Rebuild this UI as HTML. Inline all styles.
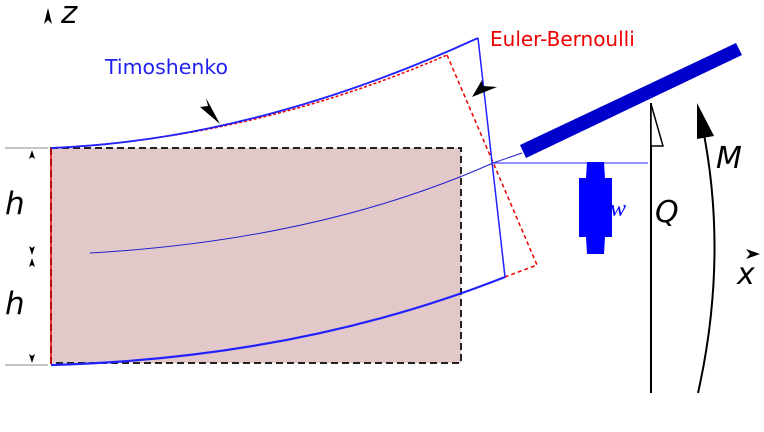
<!DOCTYPE html>
<html><head><meta charset="utf-8"><style>
html,body{margin:0;padding:0;background:#fff;width:764px;height:432px;overflow:hidden}
svg{display:block}
text{font-family:"DejaVu Sans","Liberation Sans",sans-serif}
</style></head><body>
<svg width="764" height="432" viewBox="0 0 764 432" xmlns="http://www.w3.org/2000/svg">
<rect x="51" y="148" width="410" height="215" fill="#e3c8c9" stroke="#222" stroke-width="2" stroke-dasharray="7,4"/>
<line x1="51" y1="148" x2="51" y2="364" stroke="#e00" stroke-width="1.5"/>
<line x1="5" y1="148" x2="48" y2="148" stroke="#888" stroke-width="1"/>
<line x1="5" y1="365" x2="48" y2="365" stroke="#888" stroke-width="1"/>
<g fill="#000">
<path d="M32,150 l-3,9 3,-2 3,2z"/>
<path d="M32,255 l-3,-9 3,2 3,-2z"/>
<path d="M32,258 l-3,9 3,-2 3,2z"/>
<path d="M32,363 l-3,-9 3,2 3,-2z"/>
</g>
<text x="5" y="214" font-size="31" font-style="italic">h</text>
<text x="5" y="314" font-size="31" font-style="italic">h</text>
<path d="M48,8 l-4,16 4,-4 4,4z" fill="#000"/>
<text x="61" y="23" font-size="31" font-style="italic">z</text>
<path d="M51,148 Q255,138 447,55" fill="none" stroke="#e00" stroke-width="1.5" stroke-dasharray="3,2"/>
<path d="M447,55 L537,265 L505,277" fill="none" stroke="#e00" stroke-width="1.5" stroke-dasharray="4,3"/>
<path d="M51,148 Q255,140 478,38" fill="none" stroke="#22f" stroke-width="1.8"/>
<line x1="478" y1="38" x2="505" y2="277" stroke="#22f" stroke-width="1.5"/>
<path d="M51,365 Q300,358 505,277" fill="none" stroke="#22f" stroke-width="2.2"/>
<path d="M90,253 Q320,240 493,163 L522,153" fill="none" stroke="#22c" stroke-width="1"/>
<line x1="493" y1="163" x2="648" y2="163" stroke="#22f" stroke-width="1"/>
<polygon points="520,145 526,158 742,55 736,43" fill="#00c"/>
<polygon points="587,162 604,162 605,178 612,178 612,237 605,237 604,254 587,254 586,237 579,237 579,178 586,178" fill="#00f"/>
<text x="610" y="216" font-size="24" font-style="italic" fill="#00f" style="font-family:'Liberation Serif',serif">w</text>
<line x1="651" y1="103" x2="651" y2="393" stroke="#000" stroke-width="2"/>
<polygon points="651,104 651,146 663,146" fill="#fff" stroke="#000" stroke-width="1.5"/>
<text x="655" y="222" font-size="30" font-style="italic">Q</text>
<path d="M698,393 Q730,250 700,115" fill="none" stroke="#000" stroke-width="2"/>
<polygon points="697,103 697,139 714,136" fill="#000"/>
<text x="716" y="168" font-size="30" font-style="italic">M</text>
<path d="M760,254 l-14,-5 4,5 -4,5z" fill="#000"/>
<text x="737" y="284" font-size="30" font-style="italic">x</text>
<text x="105" y="74" font-size="20.5" fill="#22e">Timoshenko</text>
<text x="490" y="46" font-size="20" fill="#e00">Euler-Bernoulli</text>
<path d="M220,124 L200,107 L208,106 L206,98z" fill="#000"/>
<path d="M472,97 L482,80 L483,86 L497,87z" fill="#000"/>
</svg>
</body></html>
